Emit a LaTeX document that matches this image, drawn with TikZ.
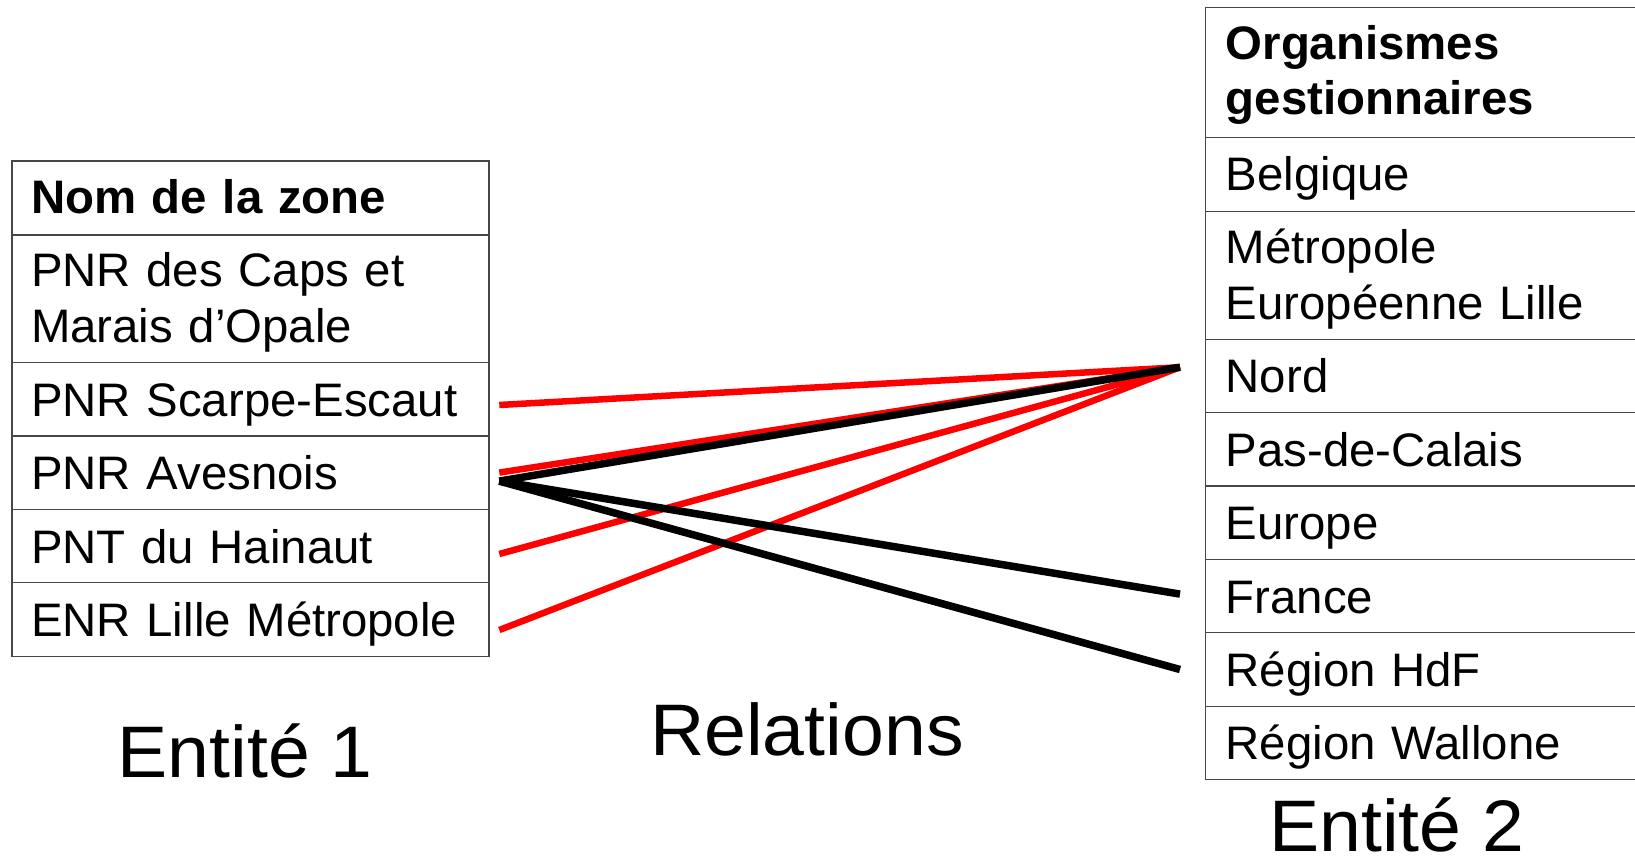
\documentclass[tikz,border=0pt]{standalone}
\usepackage{fontspec}
\setmainfont{Liberation Sans}[FakeStretch=1.008]
\newfontfamily\captionfont{Liberation Sans}[FakeStretch=1.03]
\usetikzlibrary{calc}
\begin{document}
\begin{tikzpicture}[x=1pt,y=-1pt,
  cell/.style={draw=black!72, line width=1.2pt, rectangle, outer sep=0pt,
    inner ysep=0pt, anchor=north west, align=left,
    font=\fontsize{47}{55.4}\selectfont},
  lcell/.style={cell, inner xsep=19pt, text width=439pt},
  rcell/.style={cell, inner xsep=20pt, text width=430pt},
  oneline/.style={text height=53.7pt, text depth=19.7pt},
  twoline/.style={text height=52pt, text depth=75.5pt},
  caption/.style={anchor=base west, inner sep=0pt,
    font=\captionfont\fontsize{73}{80}\selectfont},
  redlink/.style={draw=red, line width=6.5pt},
  blacklink/.style={draw=black, line width=7.5pt}]

% page
\fill[white] (0,0) rectangle (1635,858);
\useasboundingbox (0,0) rectangle (1635,858);

% entity 1: zones
\node[lcell, text height=52.3pt, text depth=21.7pt] (zhead) at (12,161) {\bfseries Nom de la zone};
\node[lcell, twoline] (caps) at (zhead.south west) {PNR des Caps et\\Marais d’Opale};
\node[lcell, oneline] (scarpe) at (caps.south west) {PNR Scarpe-Escaut};
\node[lcell, oneline] (avesnois) at (scarpe.south west) {PNR Avesnois};
\node[lcell, oneline] (hainaut) at (avesnois.south west) {PNT du Hainaut};
\node[lcell, oneline] (enr) at (hainaut.south west) {ENR Lille Métropole};

% entity 2: managing bodies
\node[rcell, text height=52pt, text depth=78pt] (ohead) at (1205.7,7.3) {\bfseries Organismes\\gestionnaires};
\node[rcell, text height=53.7pt, text depth=20.7pt] (belgique) at (ohead.south west) {Belgique};
\node[rcell, twoline] (mel) at (belgique.south west) {Métropole\\Européenne Lille};
\node[rcell, oneline] (nord) at (mel.south west) {Nord};
\node[rcell, oneline] (pdc) at (nord.south west) {Pas-de-Calais};
\node[rcell, oneline] (europe) at (pdc.south west) {Europe};
\node[rcell, oneline] (france) at (europe.south west) {France};
\node[rcell, oneline] (hdf) at (france.south west) {Région HdF};
\node[rcell, oneline] (wallone) at (hdf.south west) {Région Wallone};

% captions
\node[caption] (ent1) at (117.5,777.3) {Entité 1};
\node[caption] (rel) at (650,755) {Relations};
\node[caption] (ent2) at (1269,851.7) {Entité 2};

% link end points
\coordinate (scarpeOut) at ($(scarpe.east)+(10.3,5.8)$);
\coordinate (avesRed) at ($(avesnois.east)+(10.3,0)$);
\coordinate (avesBlack) at ($(avesnois.east)+(10.3,8.5)$);
\coordinate (hainautOut) at ($(hainaut.east)+(10.3,8)$);
\coordinate (enrOut) at ($(enr.east)+(10.3,10.6)$);
\coordinate (nordIn) at ($(nord.west)+(-25.7,-8.7)$);
\coordinate (franceIn) at ($(france.west)+(-25.7,-2)$);
\coordinate (hdfIn) at ($(hdf.west)+(-25.7,0)$);

% relations
\draw[redlink] (scarpeOut) -- (nordIn);
\draw[redlink] (avesRed) -- (nordIn);
\draw[redlink] (hainautOut) -- (nordIn);
\draw[redlink] (enrOut) -- (nordIn);
\draw[blacklink] (avesBlack) -- (nordIn);
\draw[blacklink] (avesBlack) -- (franceIn);
\draw[blacklink] (avesBlack) -- (hdfIn);
\end{tikzpicture}
\end{document}
